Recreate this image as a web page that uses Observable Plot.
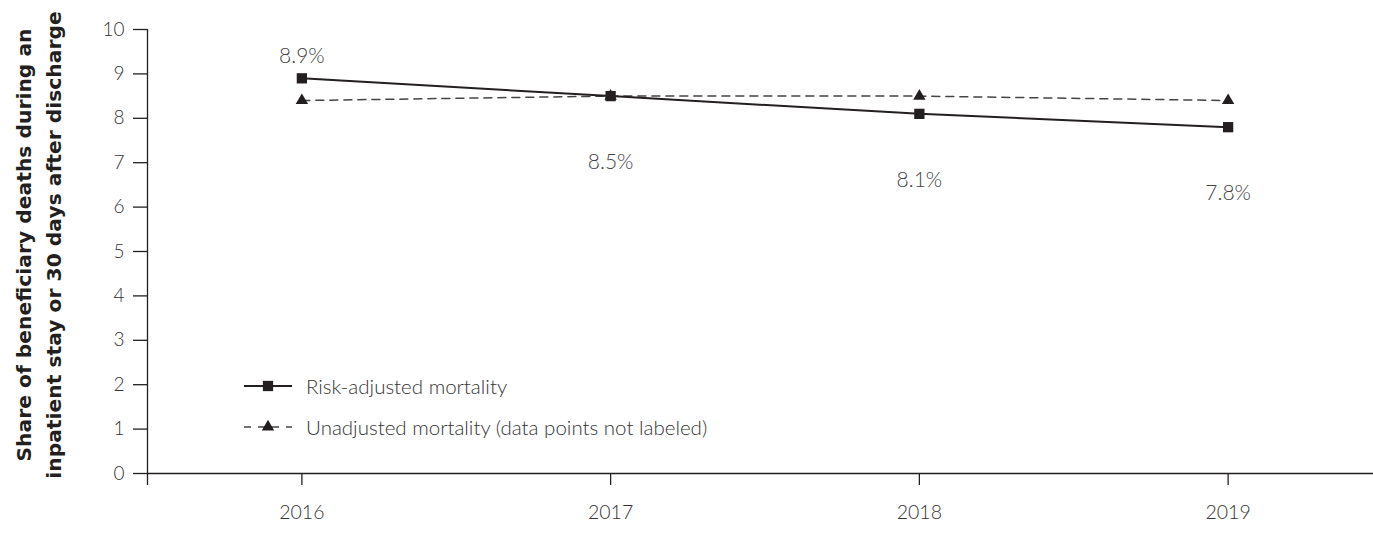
<!DOCTYPE html>
<html>
<head>
<meta charset="utf-8">
<script src="https://cdn.jsdelivr.net/npm/d3@7"></script>
<script src="https://cdn.jsdelivr.net/npm/@observablehq/plot@0.6"></script>
<style>
  html, body { margin: 0; padding: 0; background: #fff; overflow: hidden; }
  #wrap { position: relative; width: 1373px; height: 550px; overflow: hidden; }
  #chart { position: absolute; left: 0; top: 0; width: 1382px; }
  #chart svg { max-width: none !important; }
  #ylabel { position: absolute; left: 0; top: 0; }
  #legend { position: absolute; left: 244px; top: 372px; font-family: Lato, "Open Sans", sans-serif; font-weight: 300; font-size: 20.5px; color: #333; }
  .lg-row { display: flex; align-items: center; height: 28px; margin-bottom: 13px; }
  .lg-row svg { margin-right: 14px; }
</style>
</head>
<body>
<div id="wrap">
  <div id="chart"></div>
  <svg id="ylabel" width="100" height="550"></svg>
  <div id="legend"></div>
</div>
<script>
const years = [2016, 2017, 2018, 2019];
const riskAdjusted = [8.9, 8.5, 8.1, 7.8];
const unadjusted = [8.4, 8.5, 8.5, 8.4];
const riskLabels = ["8.9%", "8.5%", "8.1%", "7.8%"];
const yTicks = [0, 1, 2, 3, 4, 5, 6, 7, 8, 9, 10];
const seriesNames = ["Risk-adjusted mortality", "Unadjusted mortality (data points not labeled)"];
const yTitle = ["Share of beneficiary deaths during an", "inpatient stay or 30 days after discharge"];

const risk = years.map((y, i) => ({year: y, value: riskAdjusted[i], label: riskLabels[i], above: i === 0}));
const unadj = years.map((y, i) => ({year: y, value: unadjusted[i]}));

const ink = "#231f20";
const fontLight = "Lato, 'Open Sans', sans-serif";

const chart = Plot.plot({
  width: 1382,
  height: 550,
  marginLeft: 147,
  marginRight: 0,
  marginTop: 29,
  marginBottom: 77,
  style: {fontFamily: fontLight, fontWeight: 300, fontSize: "19px", color: "#333", background: "transparent"},
  x: {domain: [2015.5, 2019.5]},
  y: {domain: [0, 10]},
  marks: [
    Plot.axisY({ticks: yTicks, tickSize: 14, tickPadding: 9, label: null, stroke: ink, strokeOpacity: 1, strokeWidth: 1.3, fontSize: 19, fill: "#333"}),
    Plot.axisX({ticks: years, tickFormat: d => String(d), tickSize: 12, tickPadding: 20, label: null, stroke: ink, strokeOpacity: 1, strokeWidth: 1.3, fontSize: 19.5, fill: "#333"}),
    Plot.ruleX([2015.5], {stroke: ink, strokeWidth: 1.3, insetBottom: -12}),
    Plot.ruleY([0], {stroke: ink, strokeWidth: 1.3}),
    Plot.line(unadj, {x: "year", y: "value", stroke: "#444", strokeWidth: 1.5, strokeDasharray: "8,6"}),
    Plot.line(risk, {x: "year", y: "value", stroke: ink, strokeWidth: 2}),
    Plot.dot(unadj, {x: "year", y: "value", symbol: "triangle", r: 4.6, fill: ink, stroke: "none"}),
    Plot.dot(risk, {x: "year", y: "value", symbol: "square", r: 5.8, fill: ink, stroke: "none"}),
    Plot.text(risk.filter(d => d.above), {x: "year", y: "value", text: "label", dy: -22, fill: "#444", fontSize: 21}),
    Plot.text(risk.filter(d => !d.above), {x: "year", y: "value", text: "label", dy: 66, fill: "#444", fontSize: 21})
  ]
});
document.getElementById("chart").appendChild(chart);

// y axis title (two lines, rotated)
const yl = d3.select("#ylabel");
const g = yl.append("g").attr("transform", "translate(0,245) rotate(-90)");
yTitle.forEach((t, i) => {
  g.append("text")
    .attr("x", 0).attr("y", 31 + i * 30)
    .attr("text-anchor", "middle")
    .attr("font-family", "'DejaVu Sans', sans-serif")
    .attr("font-weight", "bold")
    .attr("font-size", 20.3)
    .attr("fill", ink)
    .text(t);
});

// legend
const legend = d3.select("#legend");
seriesNames.forEach((name, i) => {
  const row = legend.append("div").attr("class", "lg-row");
  const s = row.append("svg").attr("width", 48).attr("height", 20);
  if (i === 0) {
    s.append("line").attr("x1", 0).attr("x2", 48).attr("y1", 10).attr("y2", 10)
      .attr("stroke", ink).attr("stroke-width", 2);
    s.append("path").attr("d", d3.symbol(d3.symbolSquare, 5.8 * 5.8 * Math.PI)()).attr("transform", "translate(24,10)").attr("fill", ink);
  } else {
    s.append("line").attr("x1", 0).attr("x2", 48).attr("y1", 10).attr("y2", 10)
      .attr("stroke", "#444").attr("stroke-width", 1.5).attr("stroke-dasharray", "7,7");
    s.append("rect").attr("x", 14).attr("y", 4).attr("width", 20).attr("height", 12).attr("fill", "#fff");
    s.append("line").attr("x1", 14).attr("x2", 34).attr("y1", 10).attr("y2", 10)
      .attr("stroke", "#444").attr("stroke-width", 1.5);
    s.append("path").attr("d", d3.symbol(d3.symbolTriangle, 4.6 * 4.6 * Math.PI)()).attr("transform", "translate(24,10)").attr("fill", ink);
  }
  row.append("span").text(name);
});
</script>
</body>
</html>
